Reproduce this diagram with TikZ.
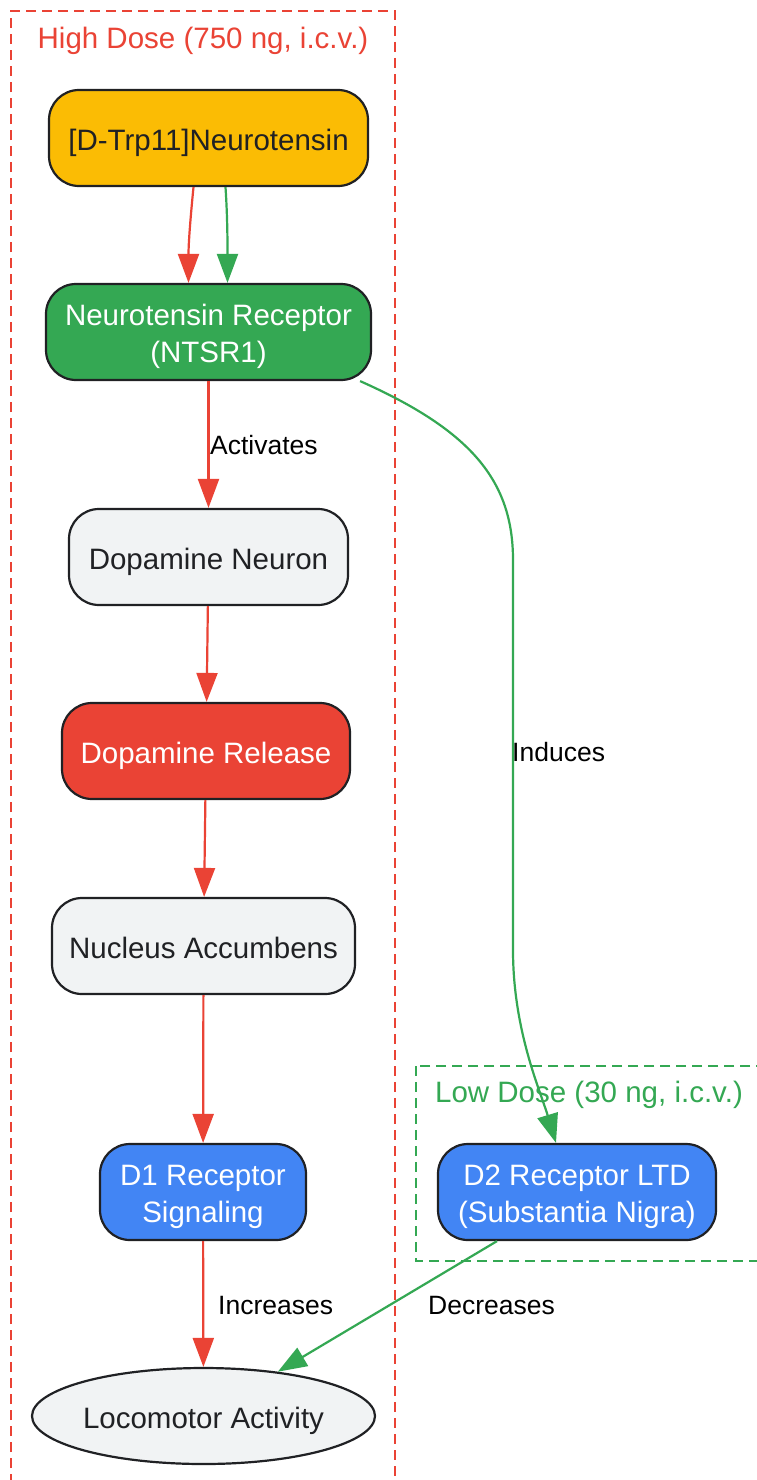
\documentclass[tikz,border=0pt]{standalone}
\usepackage{fontspec}
\setmainfont{Liberation Sans}
\usetikzlibrary{arrows.meta,shapes.geometric}
\definecolor{cred}{HTML}{EA4335}
\definecolor{cgreen}{HTML}{34A853}
\definecolor{cblue}{HTML}{4285F4}
\definecolor{cyellow}{HTML}{FBBC04}
\definecolor{cgrey}{HTML}{F1F3F4}
\definecolor{cdark}{HTML}{202124}
\newcommand{\topstrut}{\rule{0pt}{31pt}}
\newcommand{\botstrut}{\rule[-7pt]{0pt}{7pt}}
\newcommand{\twol}[2]{\rule{0pt}{52pt}\begin{tabular}{@{}c@{}}#1\\#2\end{tabular}}
\begin{document}
\begin{tikzpicture}[x=1pt,y=-1pt,
  nodetext/.style={inner sep=0pt, font=\fontsize{29.5}{37}\selectfont, text=cdark,
    execute at begin node=\topstrut, execute at end node=\botstrut},
  box/.style={nodetext, draw=cdark, line width=2.2pt, rounded corners=30pt, minimum height=96pt},
  lbl/.style={font=\fontsize{26.5}{30}\selectfont, text=black, inner sep=0pt},
  ttl/.style={font=\fontsize{29.5}{34}\selectfont, inner sep=0pt},
  cluster/.style={line width=2pt, dash pattern=on 10pt off 6pt},
  redarr/.style={draw=cred, line width=2.2pt, -{Triangle[length=29pt,width=21pt]}},
  greenarr/.style={draw=cgreen, line width=2.2pt, -{Triangle[length=29pt,width=21pt]}}]
\useasboundingbox (0,0) rectangle (756,1480);
\fill[white] (0,0) rectangle (756,1480);
% clusters
\draw[cluster, draw=cred] (11,1500) -- (11,11) -- (395,11) -- (395,1500);
\draw[cluster, draw=cgreen] (416,1066) rectangle (780,1261);
\node[ttl, text=cred] (thigh) at (203,41) {High Dose (750 ng, i.c.v.)};
\node[ttl, text=cgreen] (tlow) at (589,1095) {Low Dose (30 ng, i.c.v.)};
% nodes
\node[box, fill=cyellow, minimum width=319pt] (trp) at (208.5,138) {[D-Trp11]Neurotensin};
\node[box, fill=cgreen, text=white, minimum width=325pt] (ntsr) at (208.5,332) {\twol{Neurotensin Receptor}{(NTSR1)}};
\node[box, fill=cgrey, minimum width=279pt] (dn) at (208.5,557) {Dopamine Neuron};
\node[box, fill=cred, text=white, minimum width=288pt] (dr) at (206,751) {Dopamine Release};
\node[box, fill=cgrey, minimum width=303pt] (na) at (203.5,946) {Nucleus Accumbens};
\node[box, fill=cblue, text=white, minimum width=206pt] (d1) at (203,1192) {\twol{D1 Receptor}{Signaling}};
\node[box, fill=cblue, text=white, minimum width=278pt] (d2) at (577,1192) {\twol{D2 Receptor LTD}{(Substantia Nigra)}};
\node[nodetext, draw=cdark, line width=2.2pt, fill=cgrey, ellipse, minimum width=343pt, minimum height=96pt] (loco) at (203.5,1416) {Locomotor Activity};
% edges
\draw[redarr] ([xshift=-15pt]trp.south) .. controls +(-3,30) and +(0,-40) .. ([xshift=-20pt]ntsr.north);
\draw[greenarr] ([xshift=17pt]trp.south) .. controls +(2,30) and +(0,-40) .. ([xshift=19pt]ntsr.north);
\draw[redarr] (ntsr) -- (dn);
\draw[redarr] (dn) -- (dr);
\draw[redarr] (dr) -- (na);
\draw[redarr] (na) -- (d1);
\draw[redarr] (d1) -- (loco);
\draw[greenarr] ([xshift=-12pt]ntsr.south east) .. controls (470,430) and (513,480) .. (513,560)
  -- (513,950) .. controls (513,1030) and (540,1090) .. ([xshift=-21pt]d2.north);
\draw[greenarr] ([xshift=-80pt]d2.south) -- (loco);
% edge labels
\node[lbl, anchor=west] (lact) at (210,445) {Activates};
\node[lbl, anchor=west] (lind) at (512,752) {Induces};
\node[lbl, anchor=west] (linc) at (218,1305) {Increases};
\node[lbl, anchor=west] (ldec) at (428,1305) {Decreases};
\end{tikzpicture}
\end{document}
